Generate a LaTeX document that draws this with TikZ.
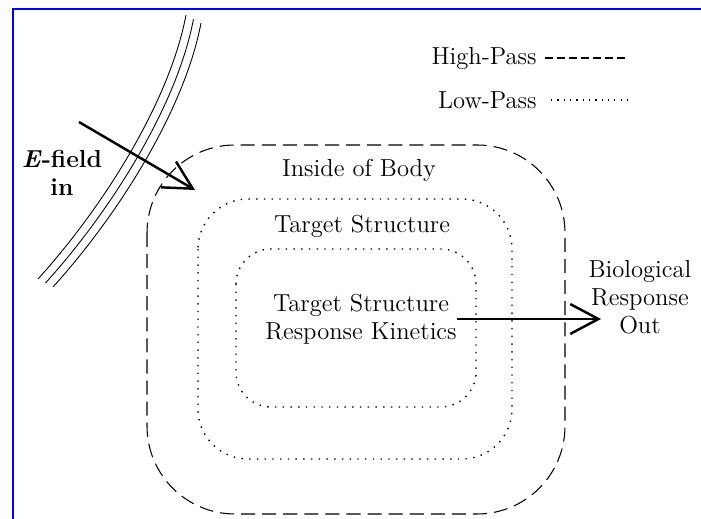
\documentclass[tikz,border=0pt]{standalone}
\usepackage{amsmath}
\usepackage{tikz}
\usetikzlibrary{positioning, arrows.meta, calc}
\tikzset{
    frame/.style={blue, line width=1.4pt},
    region/.style={line width=0.6pt, rounded corners=#1},
    highpass/.style={dash pattern=on 8pt off 4pt},
    lowpass/.style={line width=0.8pt, dash pattern=on 0.8pt off 3.6pt},
    txt/.style={font=\fontsize{14}{16}\selectfont, align=center, inner sep=0pt},
    flow/.style={line width=1.4pt, -{Straight Barb[length=16pt, width=17pt, line width=1.4pt]}},
    skin/.style={line width=0.5pt},
}

\begin{document}
\begin{tikzpicture}[x=0.02cm, y=-0.02cm]
    \useasboundingbox (0,0) rectangle (701,519);
    \draw[frame] (13,519) -- (13,9) -- (701,9);

    % body, target, kinetics
    \draw[region=1.76cm, highpass] (147,145) rectangle (565,514);
    \draw[region=1cm, lowpass] (198,199) rectangle (512,459);
    \draw[region=0.7cm, lowpass] (236,249) rectangle (476,407);

    \node[txt] (body) at (359,170) {Inside of Body};
    \node[txt] (target) at (362,226) {Target Structure};
    \node[txt] (kinetics) at (361,319) {Target Structure\\Response Kinetics};
    \node[txt] (bio) at (640,297) {Biological\\Response\\Out};

    % legend
    \node[txt, anchor=east] (hp) at (537,58) {High-Pass};
    \node[txt, anchor=east] (lp) at (537,100) {Low-Pass};
    \draw[line width=0.6pt, dash pattern=on 4.5pt off 2.3pt] ([xshift=0.16cm]hp.east) -- ([xshift=1.8cm]hp.east);
    \draw[line width=0.7pt, dash pattern=on 0.7pt off 2.9pt] ([xshift=0.28cm]lp.east) -- ([xshift=1.8cm]lp.east);

    % skin surface
    \foreach \k in {0,1,2}
        \draw[skin, shift={(\k*7.5,\k*4)}] (186,15) .. controls (170,100) and (105,205) .. (38,279);

    % field in and response out
    \node[txt, font=\fontsize{14}{16}\selectfont\bfseries] (efield) at (62,173) {\textit{E}-field\\in};
    \coordinate (src) at (79,122);
    \coordinate (entry) at (195,190);
    \coordinate (exit) at (601,319);
    \draw[flow] (src) -- (entry);
    \draw[flow] (kinetics.east) -- (exit);
\end{tikzpicture}
\end{document}
